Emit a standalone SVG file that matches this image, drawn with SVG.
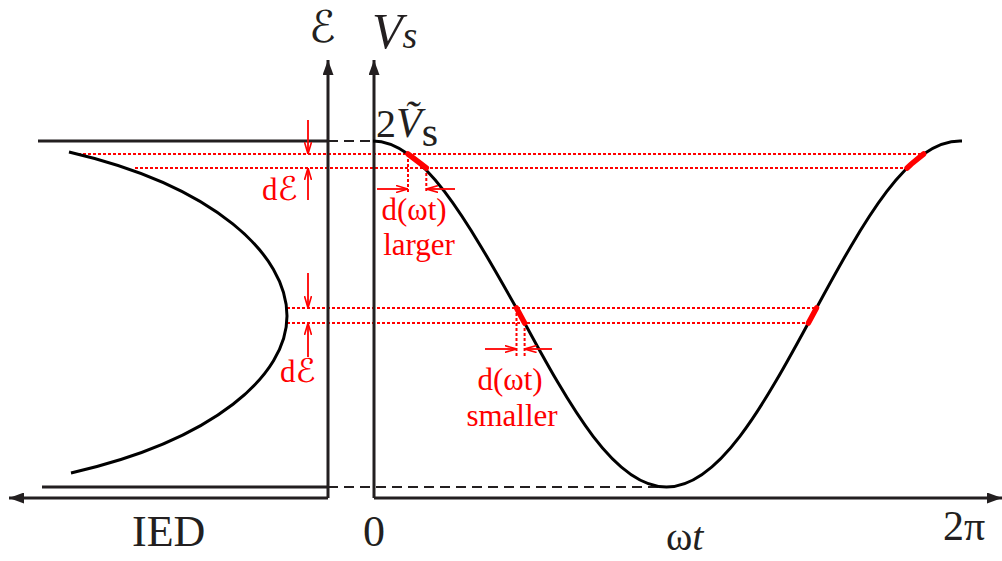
<svg xmlns="http://www.w3.org/2000/svg" width="1002" height="561" viewBox="0 0 1002 561">
<style>
.ax{stroke:#231f20;stroke-width:3;fill:none}
.crv{stroke:#000;stroke-width:3;fill:none;stroke-linejoin:round}
.dash{stroke:#231f20;stroke-width:2;stroke-dasharray:10 6;fill:none}
.rdot{stroke:#f00;stroke-width:2;stroke-dasharray:3 2;fill:none}
.rseg{stroke:#f00;stroke-width:5.5;stroke-linecap:round;fill:none}
.rarr{stroke:#f00;stroke-width:1.8;fill:none}
.lbl{font-family:"Liberation Serif","Times New Roman",serif;fill:#231f20}
.rlbl{font-family:"Liberation Serif","Times New Roman",serif;fill:#f00;font-size:31px}
.scr{font-family:"DejaVu Serif","DejaVu Sans",serif;font-style:italic}
</style>
<defs>
<marker id="ka" viewBox="0 0 15 11" refX="15" refY="5.5" markerWidth="15" markerHeight="11" markerUnits="userSpaceOnUse" orient="auto"><path d="M0,0 L15,5.5 L0,11 Z" fill="#231f20"/></marker>
<marker id="ra" viewBox="0 0 12 8" refX="12" refY="4" markerWidth="12" markerHeight="8" markerUnits="userSpaceOnUse" orient="auto"><path d="M0,0.5 L12,4 L0,7.5" fill="none" stroke="#f00" stroke-width="1.6"/></marker>
</defs>

<g id="guides">
<path class="rdot" d="M78,154 H923.6 M135,168 H907.1 M287,308 H816.5 M287,323 H808.4"/>
<path class="rdot" d="M408,154 V192 M426.3,168 V192 M516.5,308 V357 M524.6,323 V357"/>
<path class="dash" d="M328,141 H373 M328,487 H662"/>
</g>

<g id="axes">
<path class="ax" d="M38,141 H328 M42,487 H328"/>
<path class="ax" d="M328,498 V60" marker-end="url(#ka)"/>
<path class="ax" d="M328,498 H9" marker-end="url(#ka)"/>
<path class="ax" d="M374,498 V60" marker-end="url(#ka)"/>
<path class="ax" d="M374,498 H1002" marker-end="url(#ka)"/>
</g>

<g id="ied-curve">
<path class="crv" d="M69,152 C215,186 287,255 287,316 C287,375 215,440 71,473"/>
</g>

<g id="vs-curve">
<path class="crv" d="M373,141 C422,141 466,218.45 519.75,314 C571.35,409.55 614.9,487 666.5,487 C718.1,487 761.65,409.55 813.25,314 C864.85,218.45 908.4,141 960,141 L962,141"/>
<path class="rseg" d="M408,154 L420.5,163.5 L426.3,168"/>
<path class="rseg" d="M907.1,168 L911.1,164.2 L923.6,154"/>
<path class="rseg" d="M516.5,308 L524.6,323"/>
<path class="rseg" d="M808.4,323 L816.5,308"/>
</g>

<g id="connectors">
<path class="rarr" d="M308,120 V154" marker-end="url(#ra)"/>
<path class="rarr" d="M308,200 V168" marker-end="url(#ra)"/>
<path class="rarr" d="M308,273 V308" marker-end="url(#ra)"/>
<path class="rarr" d="M308,357 V323" marker-end="url(#ra)"/>
<path class="rarr" d="M377,189 H408" marker-end="url(#ra)"/>
<path class="rarr" d="M455,189 H426.3" marker-end="url(#ra)"/>
<path class="rarr" d="M485,349 H516.5" marker-end="url(#ra)"/>
<path class="rarr" d="M552,349 H524.6" marker-end="url(#ra)"/>
</g>

<g id="labels">
<text class="lbl scr" x="309" y="42" font-size="44">ℰ</text>
<text class="lbl" x="372" y="48" font-size="50" font-style="italic">V<tspan font-size="38">s</tspan></text>
<text class="lbl" x="376" y="137" font-size="40">2<tspan font-style="italic" font-size="42">Ṽ</tspan><tspan font-size="42" dy="9">s</tspan></text>
<text class="lbl" x="132" y="546" font-size="44">IED</text>
<text class="lbl" x="363" y="546" font-size="44">0</text>
<text class="lbl" x="666" y="550" font-size="40">ω<tspan font-style="italic">t</tspan></text>
<text class="lbl" x="943" y="540" font-size="42">2π</text>
</g>

<g id="red-labels">
<text class="rlbl" x="262" y="200">d<tspan class="scr" font-size="33">ℰ</tspan></text>
<text class="rlbl" x="280" y="382">d<tspan class="scr" font-size="33">ℰ</tspan></text>
<text class="rlbl" x="414" y="220" text-anchor="middle">d(ωt)</text>
<text class="rlbl" x="419" y="255" text-anchor="middle">larger</text>
<text class="rlbl" x="510" y="390" text-anchor="middle">d(ωt)</text>
<text class="rlbl" x="512" y="426" text-anchor="middle">smaller</text>
</g>
</svg>
